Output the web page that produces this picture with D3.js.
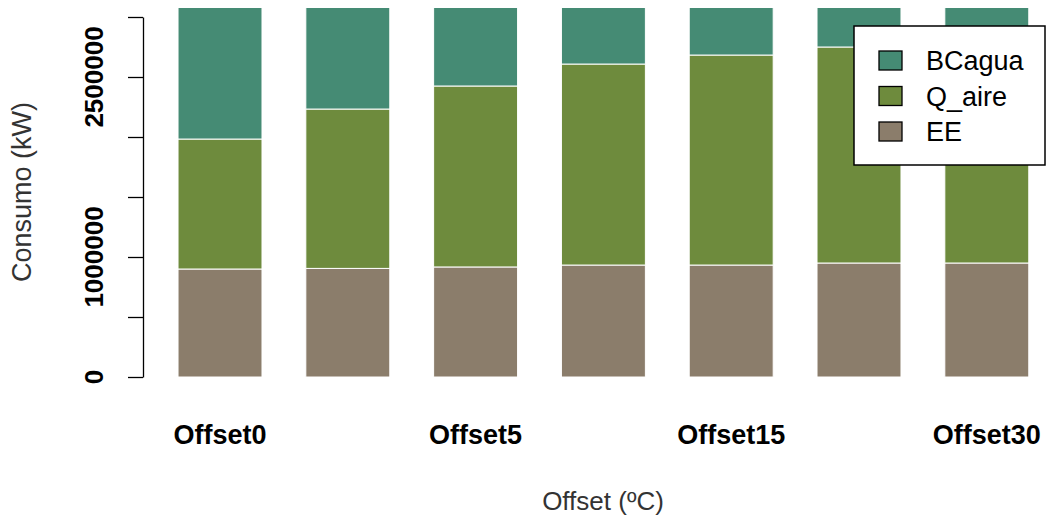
<!DOCTYPE html>
<html><head><meta charset="utf-8">
<script src="https://cdn.jsdelivr.net/npm/d3@7"></script>
<style>body{margin:0;background:#fff}</style></head>
<body><svg id="c" width="1047" height="522"></svg>
<script>
const categories=["Offset0","Offset2","Offset5","Offset10","Offset15","Offset20","Offset30"];
const tickLabels=["Offset0","","Offset5","","Offset15","","Offset30"];
const EE=[900000,905000,917000,933000,933000,950000,950000];
const Q_aire=[1083000,1328000,1508000,1675000,1750000,1800000,1850000];
const BCagua=[1600000,1400000,1200000,1000000,900000,850000,800000];
const yTicks=[0,500000,1000000,1500000,2000000,2500000,3000000];
const yLabels=[0,1000000,2500000];
const series=[["EE",EE,"#8B7D6B"],["Q_aire",Q_aire,"#6E8B3D"],["BCagua",BCagua,"#458B74"]];
const svg=d3.select("#c");
const F="Liberation Sans, Arial";
const y=d3.scaleLinear().domain([0,3000000]).range([377,17]);
const x=d3.scaleBand().domain(categories).range([156.3,1050.5]).paddingInner(0.343).paddingOuter(0.17);
svg.append("defs").append("clipPath").attr("id","cp").append("rect").attr("x",0).attr("y",8).attr("width",1047).attr("height",400);
const g=svg.append("g").attr("clip-path","url(#cp)");
categories.forEach((c,i)=>{let base=0;series.forEach(([n,v,col])=>{
 g.append("rect").attr("x",x(c)).attr("width",x.bandwidth()).attr("y",y(base+v[i])).attr("height",y(base)-y(base+v[i])).attr("fill",col).attr("stroke","#fff").attr("stroke-width",1);
 base+=v[i];});});
const ax=svg.append("g").attr("transform","translate(143,0)").call(d3.axisLeft(y).tickValues(yTicks).tickFormat("").tickSize(15).tickSizeOuter(0));
ax.selectAll("path,line").attr("stroke","#000").attr("stroke-width",1.3);
yLabels.forEach(v=>svg.append("text").attr("transform",`translate(103,${y(v)}) rotate(-90)`).attr("text-anchor","middle").attr("font-family",F).attr("font-weight","bold").attr("font-size",26).text(v));
categories.forEach((c,i)=>{if(tickLabels[i])svg.append("text").attr("x",x(c)+x.bandwidth()/2).attr("y",444).attr("text-anchor","middle").attr("font-family",F).attr("font-weight","bold").attr("font-size",27).text(tickLabels[i]);});
svg.append("text").attr("x",603).attr("y",510).attr("text-anchor","middle").attr("font-family",F).attr("font-size",26).attr("fill","#333").text("Offset (ºC)");
svg.append("text").attr("transform","translate(31,192) rotate(-90)").attr("text-anchor","middle").attr("font-family",F).attr("font-size",27).attr("fill","#333").text("Consumo (kW)");
const lg=svg.append("g");
lg.append("rect").attr("x",854).attr("y",26).attr("width",191).attr("height",139).attr("fill","#fff").attr("stroke","#000").attr("stroke-width",1.5);
[...series].reverse().forEach(([n,v,col],i)=>{
 lg.append("rect").attr("x",879).attr("y",51+i*35.5).attr("width",23).attr("height",19).attr("fill",col).attr("stroke","#000").attr("stroke-width",1.3);
 lg.append("text").attr("x",926).attr("y",70+i*35.5).attr("font-family",F).attr("font-size",27).text(n);});
</script></body></html>
